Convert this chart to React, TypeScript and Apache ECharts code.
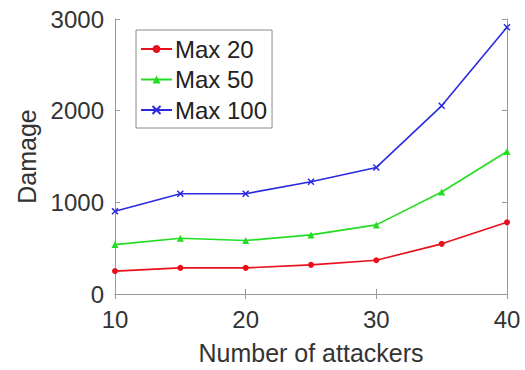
import React, { useEffect, useRef } from "react";
import * as echarts from "echarts";

const attackers = [10, 15, 20, 25, 30, 35, 40];
const max20 = [250, 285, 285, 318, 368, 547, 782];
const max50 = [539, 608, 583, 645, 754, 1113, 1555];
const max100 = [902, 1094, 1094, 1225, 1381, 2053, 2910];
const seriesNames = ["Max 20", "Max 50", "Max 100"];
const xTicks = [10, 20, 30, 40];
const yTicks = [0, 1000, 2000, 3000];

const FONT = "'Liberation Sans', Arial, sans-serif";
const TEXT = "#333333";
const AXIS = "#999999";

export default function App() {
  const ref = useRef<HTMLDivElement>(null);
  useEffect(() => {
    if (!ref.current) return;
    const chart = echarts.init(ref.current, null, { renderer: "svg" });
    const pair = (ys: number[]) => attackers.map((x, i) => [x, ys[i]]);
    const axisCommon = {
      axisLine: { show: true, lineStyle: { color: AXIS, width: 1 } },
      axisTick: { show: true, inside: true, length: 5, lineStyle: { color: AXIS } },
      splitLine: { show: false },
    };
    const plain = (v: number) => String(v);
    chart.setOption({
      animation: false,
      textStyle: { fontFamily: FONT },
      grid: { left: 115, right: 18, top: 19, bottom: 76 },
      legend: {
        orient: "vertical",
        left: 136,
        top: 30,
        data: seriesNames,
        padding: [7, 5, 6, 4],
        itemGap: 6.5,
        itemWidth: 31,
        itemHeight: 10,
        borderColor: "#8a8a8a",
        borderWidth: 1,
        backgroundColor: "#ffffff",
        textStyle: { fontSize: 24, color: "#222", fontFamily: FONT, padding: [0, 0, 0, -2] },
      },
      xAxis: [
        {
          type: "value",
          min: xTicks[0],
          max: xTicks[xTicks.length - 1],
          interval: 10,
          name: "Number of attackers",
          nameLocation: "middle",
          nameGap: 46,
          nameTextStyle: { fontSize: 25, color: TEXT, fontFamily: FONT },
          axisLabel: { fontSize: 24, color: TEXT, margin: 13, fontFamily: FONT, formatter: plain },
          ...axisCommon,
        },
        {
          type: "value",
          position: "top",
          min: xTicks[0],
          max: xTicks[xTicks.length - 1],
          interval: 10,
          axisLabel: { show: false },
          ...axisCommon,
        },
      ],
      yAxis: [
        {
          type: "value",
          min: yTicks[0],
          max: yTicks[yTicks.length - 1],
          interval: 1000,
          name: "Damage",
          nameLocation: "middle",
          nameGap: 74,
          nameTextStyle: { fontSize: 25, color: TEXT, fontFamily: FONT },
          axisLabel: { fontSize: 24, color: TEXT, margin: 11, fontFamily: FONT, formatter: plain },
          ...axisCommon,
        },
        {
          type: "value",
          position: "right",
          min: yTicks[0],
          max: yTicks[yTicks.length - 1],
          interval: 1000,
          axisLabel: { show: false },
          ...axisCommon,
        },
      ],
      series: [
        {
          name: seriesNames[0],
          type: "line",
          data: pair(max20),
          symbol: "circle",
          symbolSize: 6,
          color: "#e8101a",
          lineStyle: { width: 1.6, color: "#e8101a" },
          itemStyle: { color: "#e8101a" },
        },
        {
          name: seriesNames[1],
          type: "line",
          data: pair(max50),
          symbol: "triangle",
          symbolSize: 7,
          color: "#22dd22",
          lineStyle: { width: 1.6, color: "#22dd22" },
          itemStyle: { color: "#22dd22" },
        },
        {
          name: seriesNames[2],
          type: "line",
          data: pair(max100),
          symbol: "path://M0,0L10,10M10,0L0,10",
          symbolSize: 6,
          color: "#2a2ae0",
          lineStyle: { width: 1.6, color: "#2a2ae0" },
          itemStyle: { color: "#2a2ae0", borderColor: "#2a2ae0", borderWidth: 1.5 },
        },
      ],
    });
    return () => chart.dispose();
  }, []);
  return <div ref={ref} style={{ width: 525, height: 370, position: "absolute", left: 0, top: 0, background: "#fff" }} />;
}
